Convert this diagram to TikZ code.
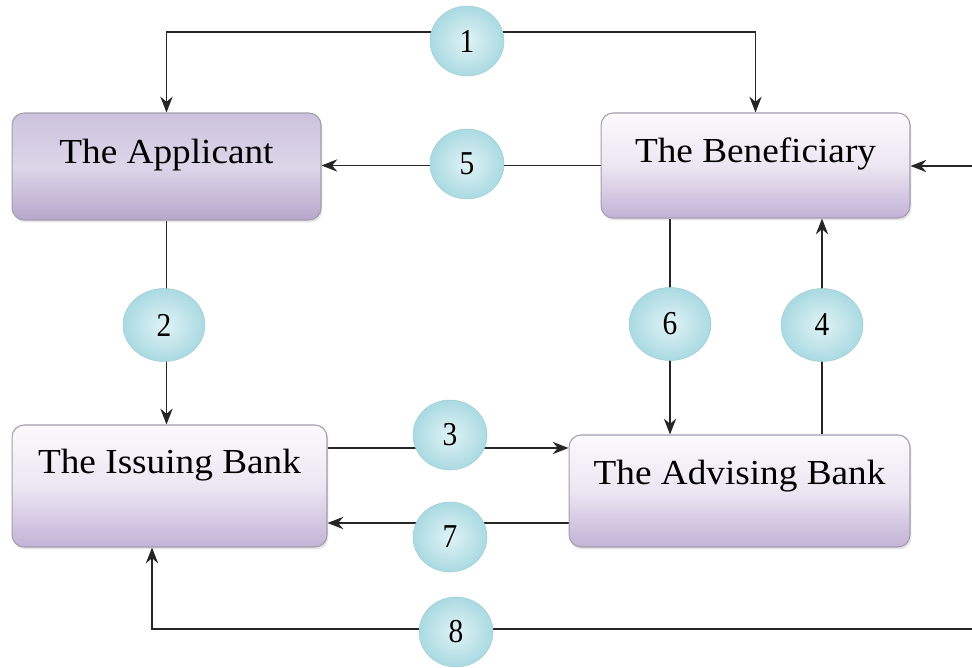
\documentclass[tikz,border=0pt]{standalone}
\usepackage{fontspec}
\setmainfont{Liberation Serif}
\newfontfamily\boxfont[FakeStretch=1.06]{Liberation Serif}
\newfontfamily\numfont[FakeStretch=0.88]{Liberation Serif}
\usetikzlibrary{arrows.meta,shapes.geometric,shadows,backgrounds}

\definecolor{boxtop}{HTML}{FBFAFD}
\definecolor{boxmid}{HTML}{ECE6F2}
\definecolor{boxbot}{HTML}{C3B2D6}
\definecolor{apptop}{HTML}{CCC2DD}
\definecolor{appmid}{HTML}{DDD6E9}
\definecolor{appbot}{HTML}{B8A7CC}
\definecolor{boxline}{HTML}{A39CAE}
\definecolor{numin}{HTML}{E0F3F5}
\definecolor{numout}{HTML}{AADAE2}
\definecolor{numline}{HTML}{A0CDD5}

\tikzset{
  party/.style={rectangle, rounded corners=0.24cm, draw=boxline, line width=0.6pt,
    top color=boxtop, bottom color=boxbot, middle color=boxmid,
    drop shadow={opacity=0.2, shadow xshift=0.03cm, shadow yshift=-0.05cm},
    font=\boxfont\fontsize{20}{24}\selectfont, text height=0.5cm},
  num/.style={ellipse, minimum width=1.48cm, minimum height=1.4cm, inner sep=0pt,
    draw=numline, line width=0.3pt, inner color=numin, outer color=numout,
    font=\numfont\fontsize{19}{22}\selectfont},
  widenum/.style={minimum width=1.64cm, minimum height=1.46cm},
  flow/.style={->, line width=0.8pt, black!85}
}

\begin{document}
\begin{tikzpicture}[x=0.02cm, y=-0.02cm, >={Stealth[length=9pt, width=7pt]}]
\useasboundingbox (0,0) rectangle (972,668);

% the four parties
\node[party, minimum width=6.18cm, minimum height=2.14cm, top color=apptop,
  bottom color=appbot, middle color=appmid, text depth=0.62cm] (app) at (166.5,166.5) {The Applicant};
\node[party, minimum width=6.18cm, minimum height=2.1cm, text depth=0.6cm] (ben) at (755.5,165.5) {The Beneficiary};
\node[party, minimum width=6.3cm, minimum height=2.44cm, text depth=1.02cm] (iss) at (169.5,486) {The Issuing Bank};
\node[party, minimum width=6.82cm, minimum height=2.24cm, text depth=0.78cm] (adv) at (739.5,491) {The Advising Bank};

% step numbers
\node[num] (c1) at (467,41) {1};
\node[num] (c5) at (467,164) {5};
\node[num, widenum] (c2) at (164,325) {2};
\node[num, widenum] (c6) at (670,324) {6};
\node[num, widenum] (c4) at (822,325) {4};
\node[num] (c3) at (450,435) {3};
\node[num] (c7) at (450,537) {7};
\node[num] (c8) at (456,632) {8};

% free ends of the lines
\coordinate (top) at (467,32);
\coordinate (inR) at (972,166);
\coordinate (inR8) at (972,629);

% flows, behind the numbers
\begin{pgfonlayer}{background}
\draw[flow] (top) -| (app);
\draw[flow] (top) -| (ben);
\draw[flow] (ben.west) -- (app.east |- ben.west);
\draw[flow] (app.south) -- (app.south |- iss.north);
\draw[flow] (ben.south -| c6) -- (adv.north -| c6);
\draw[flow] (adv.north -| c4) -- (ben.south -| c4);
\draw[flow] (iss.east |- 0,448) -- (adv.west |- 0,448);
\draw[flow] (adv.west |- 0,523) -- (iss.east |- 0,523);
\draw[flow] (inR8) -| (iss.south -| 152,0);
\draw[flow] (inR) -- (ben.east |- inR);
\end{pgfonlayer}

\end{tikzpicture}
\end{document}
